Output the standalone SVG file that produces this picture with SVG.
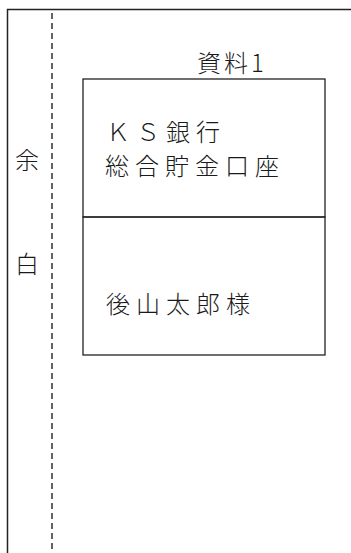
<svg xmlns="http://www.w3.org/2000/svg" width="351" height="553" viewBox="0 0 351 553">
<style>
.frame{fill:none;stroke:#222;stroke-width:1.5}
.box{fill:none;stroke:#222;stroke-width:1.3}
.dash{stroke:#222;stroke-width:1.4;stroke-dasharray:6 4;fill:none}
.t{font-family:"Noto Sans CJK JP","Liberation Serif",sans-serif;font-size:24px;fill:#1a1a1a;font-weight:300}
.ls{letter-spacing:6px}
</style>
<rect width="351" height="553" fill="#fff"/>
<g id="margin">
<path class="frame" d="M7.5 553 V9.5 H351"/>
<line class="dash" x1="52" y1="13" x2="52" y2="553"/>
<text class="t" x="27" y="169" text-anchor="middle">余</text>
<text class="t" x="27" y="273" text-anchor="middle">白</text>
</g>
<g id="title">
<text class="t" x="197" y="72" style="letter-spacing:3px">資料1</text>
</g>
<g id="bank">
<rect class="box" x="83" y="79" width="242" height="138"/>
<text class="t ls" x="106" y="141">ＫＳ銀行</text>
<text class="t ls" x="105" y="175">総合貯金口座</text>
</g>
<g id="holder">
<rect class="box" x="83" y="217" width="242" height="138"/>
<text class="t ls" x="106" y="313">後山太郎様</text>
</g>
</svg>
